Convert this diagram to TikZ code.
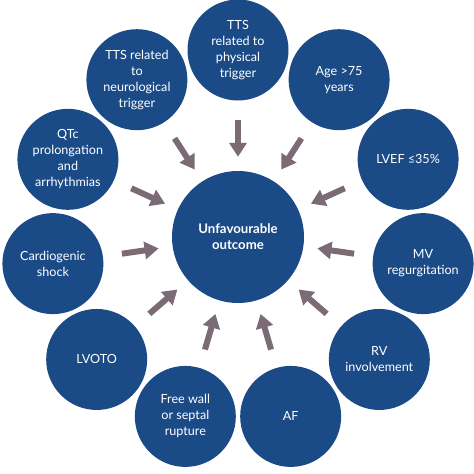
\documentclass[tikz,border=0pt]{standalone}
\usepackage{fontspec}
\setmainfont{Lato}
\usetikzlibrary{calc,arrows.meta}
\definecolor{cblue}{HTML}{1A4B86}
\definecolor{carrow}{HTML}{7B6B74}
\tikzset{
  outer/.style={circle,fill=cblue,minimum size=101pt,inner sep=0pt,text=white,align=center,font=\fontsize{12.6}{16}\selectfont},
  hub/.style={circle,fill=cblue,minimum size=132pt,inner sep=0pt,text=white,align=center,font=\fontsize{13.2}{16}\selectfont\bfseries},
  feed/.style={draw=carrow,line width=6pt,-{Triangle[width=17pt,length=14pt]},shorten <=19pt,shorten >=14pt}
}
\begin{document}
\begin{tikzpicture}
\useasboundingbox (0pt,0pt) rectangle (474pt,-474pt);
\fill[white] (0pt,0pt) rectangle (474pt,-474pt);
\coordinate (o) at (238pt,-237pt);
\node[hub] (ctr) at (o) {Unfavourable\\outcome};
\foreach \i/\txt in {0/{TTS\\related to\\physical\\trigger},
  1/{TTS related\\to\\neurological\\trigger},
  2/{QTc\\prolongation\\and\\arrhythmias},
  3/{Cardiogenic\\shock},
  4/{LVOTO},
  5/{Free wall\\or septal\\rupture},
  6/{AF},
  7/{RV\\involvement},
  8/{MV\\regurgitation},
  9/{LVEF ≤35\%},
  10/{Age >75\\years}}
{
  \pgfmathsetmacro{\ang}{90+\i*360/11}
  \node[outer] (c\i) at ($(o)+(\ang:187pt)$) {\txt};
  \draw[feed] (c\i) -- (ctr);
}
\end{tikzpicture}
\end{document}
